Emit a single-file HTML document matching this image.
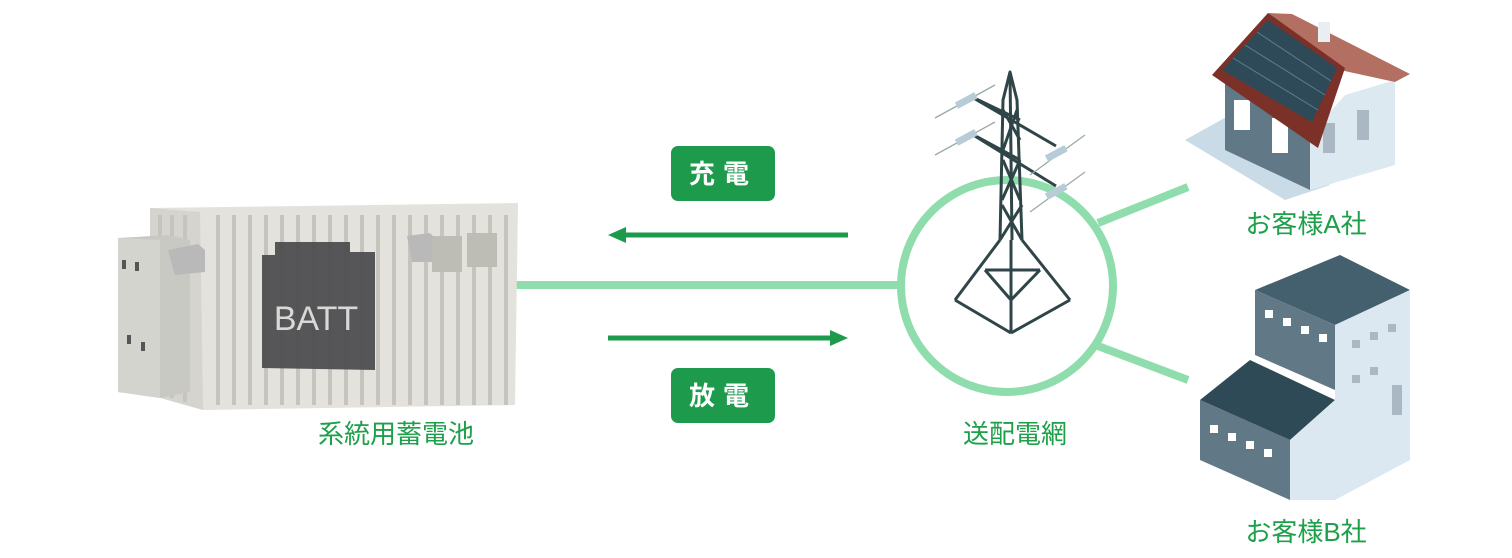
<!DOCTYPE html>
<html><head><meta charset="utf-8"><style>
html,body{margin:0;padding:0;background:#fff;width:1512px;height:558px;overflow:hidden}
svg{display:block}
text{font-family:"Liberation Sans","Noto Sans CJK JP",sans-serif}
</style></head><body>
<svg width="1512" height="558" viewBox="0 0 1512 558" xmlns="http://www.w3.org/2000/svg">
<!-- connectors -->
<line x1="505" y1="285" x2="902" y2="285" stroke="#8fdcad" stroke-width="8"/>
<circle cx="1007" cy="286" r="106" fill="none" stroke="#8fdcad" stroke-width="8"/>
<line x1="1098" y1="223" x2="1188" y2="187" stroke="#8fdcad" stroke-width="8"/>
<line x1="1098" y1="346" x2="1188" y2="380" stroke="#8fdcad" stroke-width="8"/>
<!-- arrows -->
<line x1="622" y1="235" x2="848" y2="235" stroke="#1e9a4c" stroke-width="5"/>
<polygon points="608,235 626,227 626,243" fill="#1e9a4c"/>
<line x1="608" y1="338" x2="834" y2="338" stroke="#1e9a4c" stroke-width="5"/>
<polygon points="848,338 830,330 830,346" fill="#1e9a4c"/>
<!-- badges -->
<rect x="671" y="146" width="104" height="55" rx="7" fill="#1e9a4c"/>
<text x="723" y="183" text-anchor="middle" fill="#fff" font-size="26" font-weight="bold" letter-spacing="8">充電</text>
<rect x="671" y="368" width="104" height="55" rx="7" fill="#1e9a4c"/>
<text x="723" y="405" text-anchor="middle" fill="#fff" font-size="26" font-weight="bold" letter-spacing="8">放電</text>
<!-- labels -->
<g fill="#1ea04a" font-size="26" text-anchor="middle">
<text x="396" y="443">系統用蓄電池</text>
<text x="1015" y="443">送配電網</text>
<text x="1306" y="233">お客様A社</text>
<text x="1306" y="541">お客様B社</text>
</g>
<!-- container -->
<polygon points="150,208 518,203 515,405 203,410 150,395" fill="#e4e2dc"/>
<polygon points="150,208 200,212 203,410 150,395" fill="#d6d4ce"/>
<g stroke="#c6c4bd" stroke-width="4">
<line x1="160" y1="215" x2="160" y2="395"/><line x1="172" y1="215" x2="172" y2="398"/><line x1="185" y1="215" x2="185" y2="402"/>
<line x1="218" y1="215" x2="218" y2="405"/><line x1="234" y1="215" x2="234" y2="405"/><line x1="250" y1="215" x2="250" y2="405"/>
<line x1="266" y1="215" x2="266" y2="405"/><line x1="282" y1="215" x2="282" y2="405"/><line x1="298" y1="215" x2="298" y2="405"/>
<line x1="314" y1="215" x2="314" y2="405"/><line x1="330" y1="215" x2="330" y2="405"/><line x1="346" y1="215" x2="346" y2="405"/>
<line x1="362" y1="215" x2="362" y2="405"/><line x1="378" y1="215" x2="378" y2="405"/><line x1="394" y1="215" x2="394" y2="405"/>
<line x1="410" y1="215" x2="410" y2="405"/><line x1="426" y1="215" x2="426" y2="405"/><line x1="442" y1="215" x2="442" y2="405"/>
<line x1="458" y1="215" x2="458" y2="405"/><line x1="474" y1="215" x2="474" y2="405"/><line x1="490" y1="215" x2="490" y2="405"/><line x1="506" y1="215" x2="506" y2="405"/>
</g>
<polygon points="262,255 275,255 275,242 350,242 350,252 375,252 375,370 262,368" fill="#4a4a4c" opacity="0.92"/>
<text x="316" y="330" text-anchor="middle" fill="#d8d8d8" font-size="34">BATT</text>
<polygon points="118,238 168,235 190,240 190,392 160,398 118,392" fill="#c9c9c3"/>
<polygon points="118,238 160,240 160,398 118,392" fill="#d4d4cf"/>
<g fill="#555"><rect x="122" y="260" width="4" height="9"/><rect x="135" y="262" width="4" height="9"/><rect x="127" y="335" width="4" height="9"/><rect x="141" y="342" width="4" height="9"/></g>
<path d="M168 250 L198 244 L205 250 L205 272 L175 275 Z" fill="#b9b9b9"/>
<path d="M407 236 L430 233 L437 240 L437 262 L412 262 Z" fill="#b9b9b9"/>
<rect x="432" y="236" width="30" height="36" fill="#bdbdb5"/>
<rect x="467" y="233" width="30" height="34" fill="#bdbdb5"/>
<!-- tower -->
<g stroke="#2f4548" stroke-width="3" fill="none" stroke-linejoin="round">
<polyline points="1000,240 1003,100 1010,72 1017,100 1022,240"/>
<line x1="1010" y1="72" x2="1012" y2="240"/>
<line x1="970" y1="96" x2="1056" y2="146"/><line x1="970" y1="96" x2="1020" y2="120"/>
<line x1="970" y1="133" x2="1056" y2="186"/><line x1="970" y1="133" x2="1020" y2="160"/>
<line x1="1003" y1="110" x2="1020" y2="140"/><line x1="1017" y1="110" x2="1003" y2="150"/>
<line x1="1003" y1="160" x2="1020" y2="200"/><line x1="1020" y1="160" x2="1002" y2="200"/>
<line x1="1002" y1="205" x2="1022" y2="240"/><line x1="1022" y1="205" x2="1000" y2="240"/>
<line x1="1000" y1="240" x2="955" y2="300"/><line x1="1022" y1="240" x2="1070" y2="300"/>
<line x1="1011" y1="240" x2="1011" y2="333"/>
<line x1="955" y1="300" x2="1011" y2="333"/><line x1="1070" y1="300" x2="1011" y2="333"/>
<line x1="985" y1="270" x2="1040" y2="270"/><line x1="985" y1="270" x2="1011" y2="300"/><line x1="1040" y1="270" x2="1011" y2="300"/>
</g>
<g stroke="#9aa" stroke-width="1.3"><line x1="935" y1="118" x2="995" y2="85"/><line x1="935" y1="155" x2="995" y2="122"/><line x1="1030" y1="175" x2="1085" y2="135"/><line x1="1030" y1="212" x2="1085" y2="172"/></g>
<g fill="#b8ccd8"><rect x="955" y="97" width="22" height="7" transform="rotate(-28 966 100)"/><rect x="955" y="134" width="22" height="7" transform="rotate(-28 966 137)"/><rect x="1045" y="150" width="22" height="7" transform="rotate(-28 1056 153)"/><rect x="1045" y="188" width="22" height="7" transform="rotate(-28 1056 191)"/></g>
<!-- house A -->
<polygon points="1185,140 1230,115 1330,185 1285,200" fill="#c9dbe6"/>
<polygon points="1225,80 1310,135 1310,190 1225,150" fill="#617887"/>
<polygon points="1310,135 1345,95 1395,80 1395,165 1310,190" fill="#dde9f1"/>
<rect x="1234" y="100" width="16" height="30" fill="#fff"/><rect x="1272" y="118" width="16" height="35" fill="#fff"/>
<rect x="1323" y="123" width="12" height="30" fill="#a9b8c2"/><rect x="1357" y="110" width="12" height="30" fill="#a9b8c2"/>
<polygon points="1268,13 1292,14 1410,74 1395,82 1340,70" fill="#b36f62"/>
<polygon points="1212,75 1268,13 1345,68 1318,148" fill="#7b3127"/>
<polygon points="1222,70 1268,20 1337,68 1312,122" fill="#2e4a58"/>
<g stroke="#5f7c8a" stroke-width="1"><line x1="1245" y1="45" x2="1325" y2="95"/><line x1="1233" y1="58" x2="1318" y2="110"/><line x1="1257" y1="32" x2="1331" y2="81"/></g>
<rect x="1318" y="22" width="12" height="20" fill="#e8eef2"/>
<!-- building B -->
<polygon points="1200,430 1250,395 1330,455 1285,495" fill="#c9dbe6"/>
<polygon points="1255,290 1340,255 1410,290 1335,325" fill="#44606e"/>
<polygon points="1255,290 1335,325 1335,390 1255,355" fill="#617887"/>
<polygon points="1335,325 1410,290 1410,460 1335,500" fill="#dbe8f1"/>
<polygon points="1200,400 1250,360 1335,400 1290,440" fill="#2f4a57"/>
<polygon points="1200,400 1290,440 1290,500 1200,460" fill="#617887"/>
<polygon points="1290,440 1335,400 1335,500 1290,500" fill="#dbe8f1"/>
<g fill="#fff"><rect x="1265" y="310" width="8" height="8"/><rect x="1283" y="318" width="8" height="8"/><rect x="1301" y="326" width="8" height="8"/><rect x="1319" y="334" width="8" height="8"/>
<rect x="1210" y="425" width="8" height="8"/><rect x="1228" y="433" width="8" height="8"/><rect x="1246" y="441" width="8" height="8"/><rect x="1264" y="449" width="8" height="8"/></g>
<g fill="#a9b8c2"><rect x="1352" y="340" width="8" height="8"/><rect x="1370" y="332" width="8" height="8"/><rect x="1388" y="324" width="8" height="8"/><rect x="1352" y="375" width="8" height="8"/><rect x="1370" y="367" width="8" height="8"/><rect x="1392" y="385" width="10" height="30"/></g>
</svg>
</body></html>
